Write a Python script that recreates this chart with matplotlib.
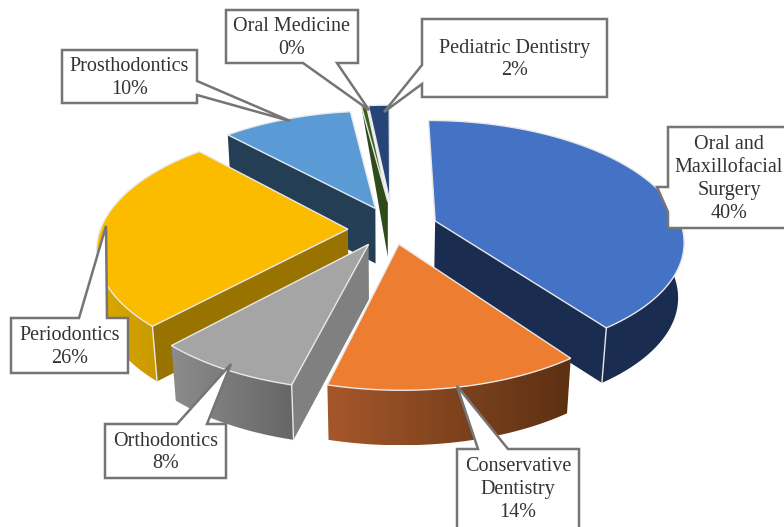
import numpy as np
import matplotlib
matplotlib.use('Agg')
import matplotlib.pyplot as plt
from matplotlib.colors import to_rgb
from matplotlib.patches import Polygon

names = ['Oral and\nMaxillofacial\nSurgery', 'Conservative\nDentistry', 'Orthodontics',
         'Periodontics', 'Prosthodontics', 'Oral Medicine', 'Pediatric Dentistry']
# oral medicine is a sliver that rounds to 0, pediatric rounds up to 2
values = [40, 14, 8, 26, 10, 0.4, 1.6]
shown = [40, 14, 8, 26, 10, 0, 2]

top_colors = ['#4472C4', '#ED7D31', '#A5A5A5', '#FBBC00', '#5B9BD5', '#3A5F20', '#264478']
face_colors = ['#1A2D50', '#7A4018', '#808080', '#997300', '#243F55', '#2F4B1A', '#1C3360']
arc_left = ['#1A2D50', '#A5572A', '#8C8C8C', '#DCA800', '#243F55', '#2F4B1A', '#1C3360']
arc_right = ['#1A2D50', '#5C3012', '#666666', '#C99A00', '#243F55', '#2F4B1A', '#1C3360']
# how far each slice is pulled out
explode_x = [0.205, 0.055, -0.065, -0.15, -0.04, 0.012, 0.02]
explode_y = [0.06, -0.135, -0.135, -0.01, 0.17, 0.23, 0.24]

cx, cy = 385, 228
rx, ry = 247, 118
persp = 6.5
depth = 55


def project(x, y):
    s = persp / (persp + y)
    return cx + rx * x * s, cy - ry * y * s


def drop(px, py):
    # bottom of the slab, shrunk a little towards the centre
    return cx + (np.asarray(px) - cx) * 0.98, np.asarray(py) + depth


fig = plt.figure(figsize=(7.84, 5.27), dpi=100)
ax = fig.add_axes([0, 0, 1, 1])
ax.axis('off')

plt.rcParams['font.family'] = ['Liberation Serif', 'DejaVu Serif']

fractions = np.array(values) / sum(values)
edges = np.concatenate([[0], np.cumsum(fractions)]) * 2 * np.pi

# back to front
order = [4, 6, 5, 3, 0, 2, 1]
edge_c = '#E8E8E8'
z = 2
for i in order:
    t0, t1 = edges[i], edges[i + 1]
    t = np.linspace(t0, t1, 80)
    top_x, top_y = project(np.sin(t) + explode_x[i], np.cos(t) + explode_y[i])
    ap_x, ap_y = project(explode_x[i], explode_y[i])
    bx, by = drop(top_x, top_y)
    abx, aby = drop(ap_x, ap_y)

    # radial face that looks towards the viewer
    if np.sin(t0) < 0 and i != 6:
        pts = [(ap_x, ap_y), (top_x[0], top_y[0]), (bx[0], by[0]), (abx, aby)]
        if i == 5:
            pts = [(ap_x, ap_y), (top_x[0], top_y[0]), (abx, aby)]
        ax.add_patch(Polygon(pts, fc=face_colors[i], ec='none', zorder=z))
    if np.sin(t1) > 0:
        pts = [(ap_x, ap_y), (top_x[-1], top_y[-1]), (bx[-1], by[-1]), (abx, aby)]
        ax.add_patch(Polygon(pts, fc=face_colors[i], ec='none', zorder=z))

    # outer rim, only the part facing front, shaded left to right
    seg = np.where(np.cos(t) < 0.03)[0]
    if len(seg) > 1:
        rim = np.column_stack([np.r_[top_x[seg], bx[seg][::-1]], np.r_[top_y[seg], by[seg][::-1]]])
        grad = np.linspace(to_rgb(arc_left[i]), to_rgb(arc_right[i]), 64)[None, :, :]
        im = ax.imshow(grad, extent=(rim[:, 0].min(), rim[:, 0].max(), rim[:, 1].max(), rim[:, 1].min()),
                       aspect='auto', interpolation='bilinear', zorder=z)
        clip = Polygon(rim, transform=ax.transData, fc='none', ec='none')
        ax.add_patch(clip)
        im.set_clip_path(clip)
        if i in (2, 3):
            ax.plot([top_x[0], bx[0]], [top_y[0], by[0]], color=edge_c, lw=1, zorder=z)
    if i == 0:
        ax.plot([top_x[-1], bx[-1]], [top_y[-1], by[-1]], color=edge_c, lw=1, zorder=z)

    top = np.column_stack([np.r_[ap_x, top_x], np.r_[ap_y, top_y]])
    ax.add_patch(Polygon(top, fc=top_colors[i], ec=edge_c, lw=1, joinstyle='miter', zorder=z))
    z += 1

# callouts: box x0, y0, x1, y1 then tail start, tip, tail end
boxes = [
    (668, 127, 800, 228, (668, 187), (657, 187), (668, 212)),
    (457, 449, 579, 540, (478, 449), (457, 386), (508, 449)),
    (105, 424, 226, 478, (177, 424), (231, 364), (207, 424)),
    (11, 318, 128, 373, (79, 318), (106, 226), (107, 318)),
    (62, 50, 197, 103, (197, 81), (290, 121), (197, 95)),
    (226, 10, 358, 63, (303, 63), (369, 110), (337, 63)),
    (422, 19, 607, 97, (422, 65), (384, 112), (422, 84)),
]
for i, b in enumerate(boxes):
    x0, y0, x1, y1, p, tip, q = b
    # put the tail in on the side it starts from
    if p[0] == x0:
        poly = [(x0, y0), (x1, y0), (x1, y1), (x0, y1), q, tip, p]
    elif p[0] == x1:
        poly = [(x0, y0), (x1, y0), p, tip, q, (x1, y1), (x0, y1)]
    elif p[1] == y0:
        poly = [(x0, y0), p, tip, q, (x1, y0), (x1, y1), (x0, y1)]
    else:
        poly = [(x0, y0), (x1, y0), (x1, y1), q, tip, p, (x0, y1)]
    ax.add_patch(Polygon(poly, fc='white', ec='#757575', lw=1.8, joinstyle='miter', zorder=20))
    label = names[i] + '\n' + str(shown[i]) + '%'
    ax.text((x0 + min(x1, 790)) / 2, (y0 + min(y1, 527)) / 2 + 1.5, label, ha='center', va='center',
            fontsize=14.5, color='#333333', linespacing=1.28, zorder=21)

ax.set_xlim(0, 784)
ax.set_ylim(527, 0)
fig.savefig('out.png', dpi=100)
